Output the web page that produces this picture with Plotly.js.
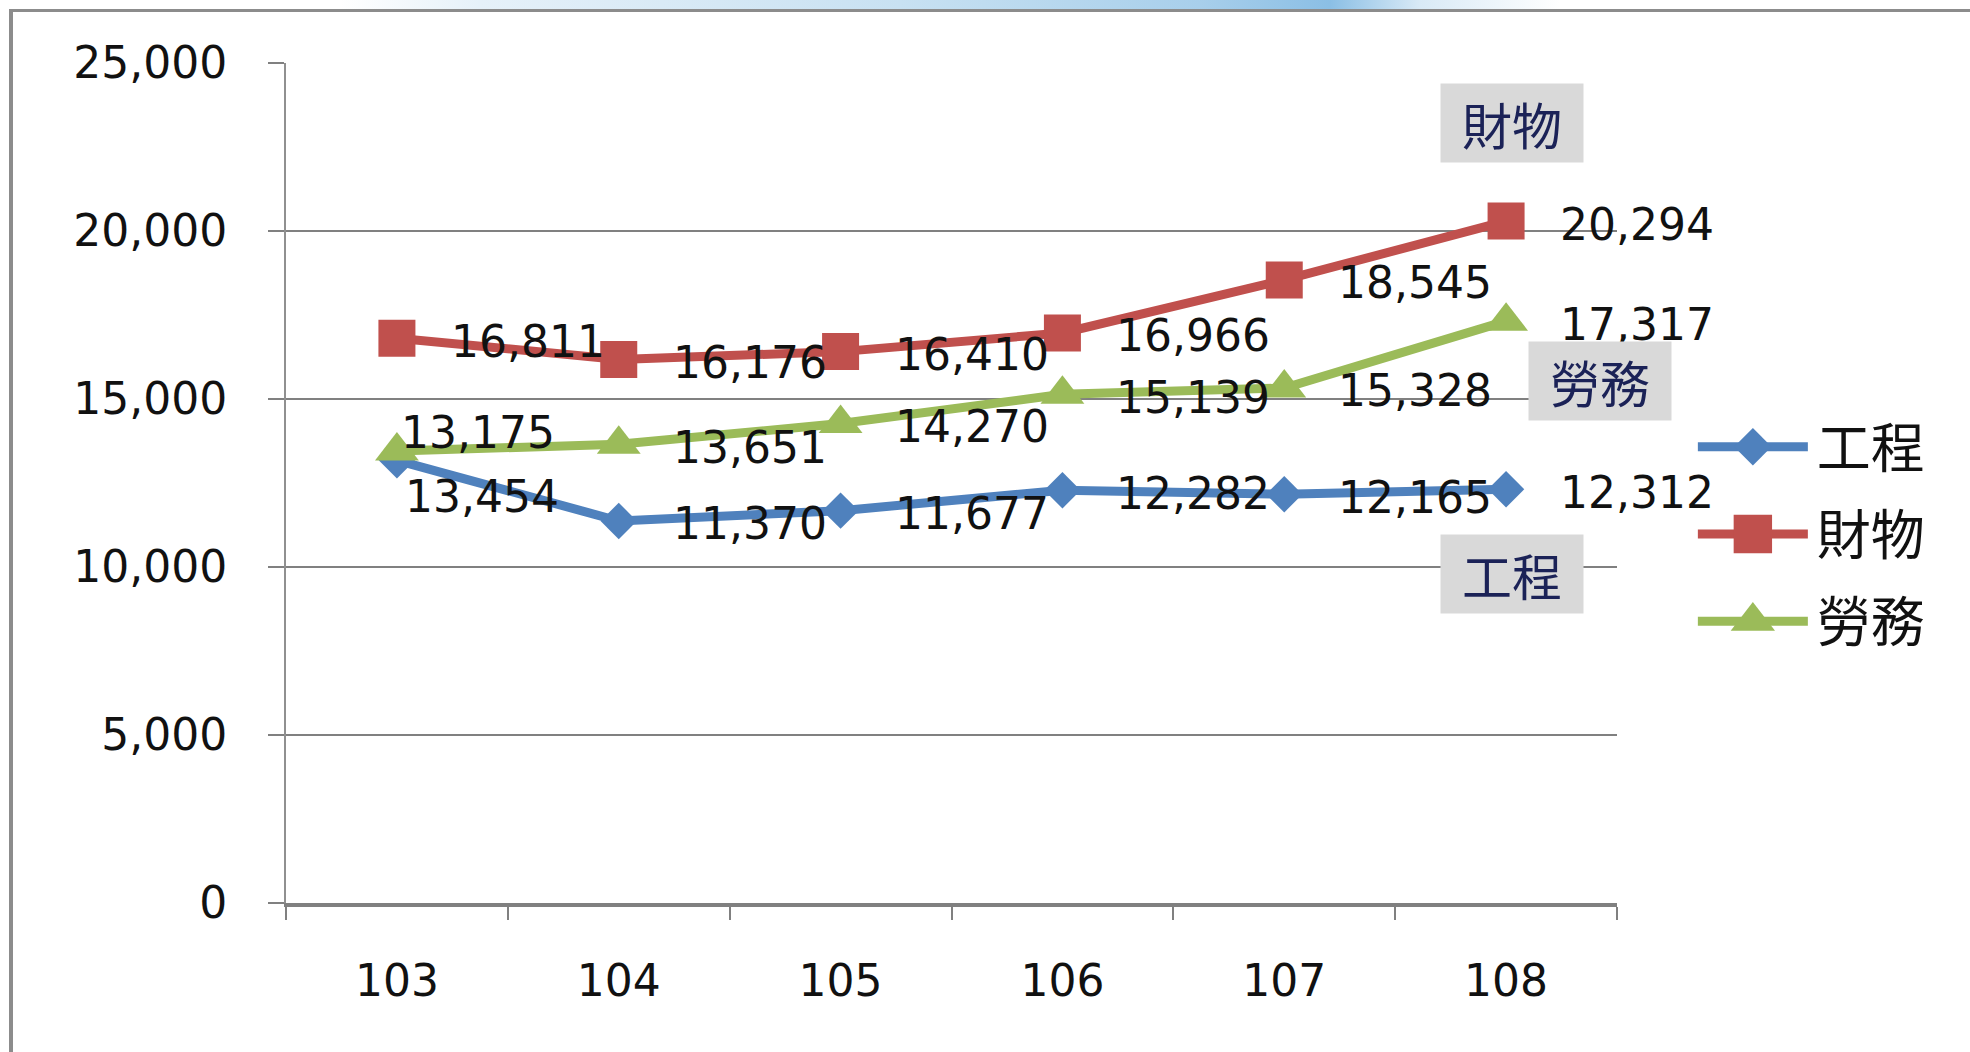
<!DOCTYPE html>
<html><head><meta charset="utf-8">
<script src="https://cdn.plot.ly/plotly-3.0.1.min.js"></script>
<style>
html,body{margin:0;padding:0;background:#fff;width:1970px;height:1052px;overflow:hidden}
#topstrip{position:absolute;left:0;top:0;width:1970px;height:10px;background:linear-gradient(90deg,#fff 0px,#fff 340px,#e6f1f9 480px,#c8e1f2 900px,#a8cfeb 1200px,#8bbfe5 1330px,#d9eaf6 1420px,#fff 1560px,#fff 1970px)}
#frame{position:absolute;left:9px;top:9px;width:2000px;height:1100px;border-left:4px solid #8c8c8c;border-top:3px solid #8c8c8c}
#chart{position:absolute;left:0;top:0;width:1970px;height:1052px}
</style></head>
<body>
<div id="topstrip"></div><div id="frame"></div><div id="chart"></div>
<script>
// ---- data ----
const years = ['103','104','105','106','107','108'];
const seriesNames = ['工程','財物','勞務'];
const engineering = [13175, 11370, 11677, 12282, 12165, 12312];
const goods       = [16811, 16176, 16410, 16966, 18545, 20294];
const services    = [13454, 13651, 14270, 15139, 15328, 17317];
const yTickValues = [0, 5000, 10000, 15000, 20000, 25000];

// ---- styles ----
const seriesValues = [engineering, goods, services];
const colors  = ['#4F81BD', '#C0504D', '#9BBB59'];
const symbols = ['diamond', 'square', 'triangle-up'];
const msizes  = [28, 37, 38];
// label offsets (px) per series/point
const lblDX = [[2,52,52,52,52,52],[52,52,52,52,52,52],[6,52,52,52,52,52]];
const lblDY = [[28,-3,-3,-3,-3,-3],[-3,-3,-3,-3,-3,-3],[-46,-3,-3,-3,-3,-3]];

const numFont = 'DejaVu Sans, Verdana, sans-serif';
const cjkFont = 'Noto Sans CJK TC, Noto Sans CJK SC, sans-serif';

const traces = seriesValues.map((vals, i) => ({
  type: 'scatter', mode: 'lines+markers',
  x: years, y: vals, name: seriesNames[i],
  legendgroup: 'g' + i,
  line: {color: colors[i], width: 9},
  marker: {symbol: symbols[i], size: msizes[i], color: colors[i], line: {width: 0}},
  hoverinfo: 'skip'
}));

const annotations = [];
seriesValues.forEach((vals, i) => {
  vals.forEach((v, j) => {
    annotations.push({
      x: j, y: v, xref: 'x', yref: 'y',
      text: v.toLocaleString('en-US'),
      showarrow: false, xanchor: 'left', yanchor: 'middle',
      xshift: lblDX[i][j], yshift: lblDY[i][j],
      font: {family: numFont, size: 44, color: '#111'}
    });
  });
});
// callout boxes
const callouts = [
  {text: '財物', x: 0.921, y: 0.929},
  {text: '勞務', x: 0.987, y: 0.621},
  {text: '工程', x: 0.921, y: 0.392}
];
callouts.forEach(c => annotations.push({
  xref: 'paper', yref: 'paper', x: c.x, y: c.y, text: c.text,
  showarrow: false, xanchor: 'center', yanchor: 'middle',
  bgcolor: '#D9D9D9', width: 142, height: 78, borderpad: 0,
  font: {family: cjkFont, size: 50, color: '#1B2257'}
}));

const layout = {
  width: 1970, height: 1052,
  paper_bgcolor: 'rgba(0,0,0,0)', plot_bgcolor: 'rgba(0,0,0,0)',
  margin: {l: 286, r: 353, t: 63, b: 149, autoexpand: false},
  showlegend: true,
  legend: {
    x: 1.060, xanchor: 'left', y: 0.439, yanchor: 'middle',
    font: {family: cjkFont, size: 54, color: '#111'},
    itemwidth: 110, tracegroupgap: 14, bgcolor: 'rgba(0,0,0,0)',
    traceorder: 'grouped'
  },
  xaxis: {
    type: 'category', categoryorder: 'array', categoryarray: years,
    range: [-0.5, 5.5], showgrid: false, zeroline: false,
    showline: true, linecolor: '#808080', linewidth: 4,
    ticks: 'outside', tickson: 'boundaries', ticklen: 13, tickwidth: 2, tickcolor: '#808080',
    tickfont: {family: numFont, size: 44, color: '#111'},
    ticklabelstandoff: 36, fixedrange: true
  },
  yaxis: {
    range: [0, 25000], tickvals: yTickValues, tickformat: ',d',
    showgrid: true, gridcolor: '#808080', gridwidth: 2.5, zeroline: false,
    showline: true, linecolor: '#909090', linewidth: 2,
    ticks: 'outside', ticklen: 16, tickwidth: 2.5, tickcolor: '#808080',
    tickfont: {family: numFont, size: 44, color: '#111'},
    ticklabelstandoff: 32, fixedrange: true
  },
  annotations: annotations
};

Plotly.newPlot('chart', traces, layout, {staticPlot: true, displayModeBar: false}).then(() => {
  // lengthen legend line samples and enlarge legend markers
  document.querySelectorAll('.legend .traces').forEach((g, i) => {
    const txt = g.querySelector('text.legendtext');
    if (!txt) return;
    const tx = parseFloat(txt.getAttribute('x')) || 40;
    const end = tx - 9, start = end - 110, mid = (start + end) / 2;
    g.querySelectorAll('g.layers, g.legendlines, g.legendsymbols, g.legendpoints').forEach(el => el.removeAttribute('transform'));
    g.querySelectorAll('.legendlines path').forEach(p => { p.removeAttribute('transform'); p.setAttribute('d', 'M' + start + ',0h110'); p.style.strokeWidth = '9px'; });
    const sc = [1.8, 2.4, 2.4][i] || 2;
    g.querySelectorAll('.legendpoints path').forEach(p => p.setAttribute('transform', 'translate(' + mid + ',0) scale(' + sc + ')'));
  });
});
</script>
</body></html>
